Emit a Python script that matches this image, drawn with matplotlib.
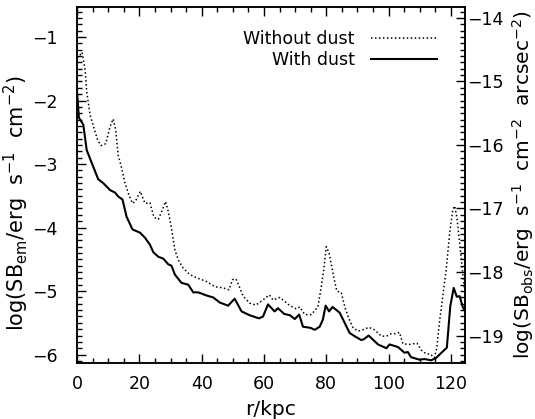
import numpy as np
import matplotlib
matplotlib.use("Agg")
import matplotlib.pyplot as plt
from matplotlib.ticker import MultipleLocator

# with dust (solid)
r_dust = [0, 0.6, 2.0, 3.1, 4.7, 6.8, 8.4, 10.6, 12.2, 13.2, 14.6, 15.9, 17.8,
          20.2, 21.8, 23.4, 24.5, 26.1, 27.7, 29.3, 30.3, 31.4, 33.5, 35.7,
          37.3, 38.9, 41.6, 43.7, 45.8, 48.5, 50.6, 52.8, 55.4, 58.4, 59.7,
          61.3, 63.4, 64.5, 66.5, 68.3, 69.9, 71.3, 72.5, 75.0, 76.3, 77.9,
          78.9, 79.8, 80.9, 82.0, 84.3, 85.9, 87.5, 89.1, 91.2, 92.0, 93.6,
          96.6, 99.3, 100.3, 103.0, 105.1, 106.2, 107.2, 109.9, 111.5, 113.7,
          115.3, 117.2, 118.7, 119.8, 120.9, 121.9, 122.8, 123.8, 124.4]
sb_dust = [-1.85, -2.27, -2.38, -2.78, -2.98, -3.24, -3.30, -3.41, -3.45, -3.51,
           -3.56, -3.83, -4.03, -4.08, -4.16, -4.27, -4.39, -4.46, -4.49, -4.58,
           -4.60, -4.74, -4.87, -4.90, -5.02, -5.02, -5.07, -5.10, -5.18, -5.23,
           -5.12, -5.32, -5.38, -5.43, -5.40, -5.21, -5.32, -5.27, -5.36, -5.38,
           -5.44, -5.37, -5.56, -5.58, -5.61, -5.56, -5.45, -5.23, -5.32, -5.25,
           -5.34, -5.50, -5.66, -5.71, -5.77, -5.76, -5.70, -5.84, -5.90, -5.84,
           -5.88, -5.97, -5.96, -6.04, -6.08, -6.07, -6.09, -6.05, -5.96, -5.89,
           -5.24, -4.95, -5.09, -5.08, -5.25, -5.30]

# without dust (dotted)
r_nodust = [0, 1.0, 1.6, 2.6, 3.1, 4.2, 5.6, 6.6, 7.7, 9.2, 10.6, 11.6, 12.4,
            13.2, 14.3, 15.4, 16.6, 17.8, 18.8, 20.3, 21.8, 23.4, 24.7, 26.1,
            27.5, 28.4, 29.3, 30.3, 31.4, 32.5, 34.1, 36.2, 38.4, 41.6, 44.2,
            46.9, 48.8, 49.9, 51.0, 52.0, 53.3, 55.4, 57.4, 59.7, 61.7, 62.9,
            65.1, 66.1, 68.3, 70.4, 71.5, 73.1, 75.2, 77.3, 78.4, 79.2, 80.0,
            80.9, 81.6, 82.7, 83.4, 84.8, 85.9, 87.0, 88.6, 90.2, 92.3, 93.6,
            95.5, 97.7, 99.3, 100.9, 102.5, 103.5, 104.6, 106.7, 109.1, 110.5,
            112.1, 113.3, 114.7, 115.5, 116.3, 117.4, 118.5, 119.6, 120.6,
            121.2, 121.9, 122.8, 123.8, 124.4]
sb_nodust = [-1.33, -1.28, -1.24, -1.52, -1.86, -2.23, -2.46, -2.62, -2.71, -2.68,
             -2.41, -2.29, -2.46, -2.86, -3.06, -3.30, -3.48, -3.62, -3.58, -3.43,
             -3.62, -3.61, -3.84, -3.87, -3.71, -3.59, -3.75, -4.01, -4.35, -4.51,
             -4.64, -4.74, -4.79, -4.85, -4.93, -4.95, -4.98, -4.82, -4.81, -4.92,
             -5.08, -5.19, -5.22, -5.14, -5.06, -5.14, -5.10, -5.14, -5.23, -5.28,
             -5.25, -5.37, -5.37, -5.25, -4.93, -4.66, -4.30, -4.40, -4.58, -4.85,
             -5.00, -5.02, -5.24, -5.40, -5.58, -5.63, -5.60, -5.57, -5.61, -5.71,
             -5.71, -5.67, -5.67, -5.65, -5.83, -5.84, -5.82, -5.93, -5.99, -5.99,
             -6.05, -5.89, -5.50, -5.08, -4.66, -4.09, -3.72, -3.66, -3.83, -4.24,
             -4.72, -4.98]

offset = -13.3  # obs axis = em axis + offset
ylo, yhi = -6.13, -0.53

plt.rcParams['font.size'] = 12.5
fig = plt.figure(figsize=(5.35, 4.19), dpi=100)
ax = fig.add_axes([0.144, 0.134, 0.725, 0.849])

ax.plot(r_nodust, sb_nodust, color='black', lw=1.1, dashes=(1, 1.6),
        label='Without dust')
ax.plot(r_dust, sb_dust, color='black', lw=1.5, label='With dust')

ax.set_xlim(0, 124.5)
ax.set_ylim(ylo, yhi)
ax.xaxis.set_major_locator(MultipleLocator(20))
ax.xaxis.set_minor_locator(MultipleLocator(5))
ax.yaxis.set_major_locator(MultipleLocator(1))
ax.yaxis.set_minor_locator(MultipleLocator(0.1))
ax.tick_params(which='both', direction='in', top=True, right=False, width=1)
ax.tick_params(which='major', length=6.5)
ax.tick_params(axis='y', which='major', pad=14)
ax.tick_params(axis='x', which='major', pad=9)
ax.tick_params(which='minor', length=3.5)
ax.set_xlabel('r/kpc', fontsize=14.5)
ax.xaxis.set_label_coords(0.5, -0.105)
ax.set_ylabel(r'log(SB$_{\mathrm{em}}$/erg  s$^{-1}$  cm$^{-2}$)', fontsize=15)
ax.yaxis.set_label_coords(-0.118, 0.45)

ax2 = ax.twinx()
ax2.set_ylim(ylo + offset, yhi + offset)
ax2.yaxis.set_major_locator(MultipleLocator(1))
ax2.yaxis.set_minor_locator(MultipleLocator(0.1))
ax2.tick_params(which='both', direction='in', width=1)
ax2.tick_params(which='major', length=6.5, pad=1.5)
ax2.tick_params(which='minor', length=3.5)
ax2.set_ylabel(r'log(SB$_{\mathrm{obs}}$/erg  s$^{-1}$  cm$^{-2}$  arcsec$^{-2}$)',
               fontsize=14.5)
ax2.yaxis.set_label_coords(1.116, 0.5)

for a in (ax, ax2):
    for s in a.spines.values():
        s.set_linewidth(1.1)

ax.legend(loc='upper right', bbox_to_anchor=(0.928, 0.935), frameon=False,
          markerfirst=False, handlelength=3.8, borderpad=0, borderaxespad=0,
          labelspacing=0.15, handletextpad=0.95)

fig.savefig('out.png', dpi=100)
